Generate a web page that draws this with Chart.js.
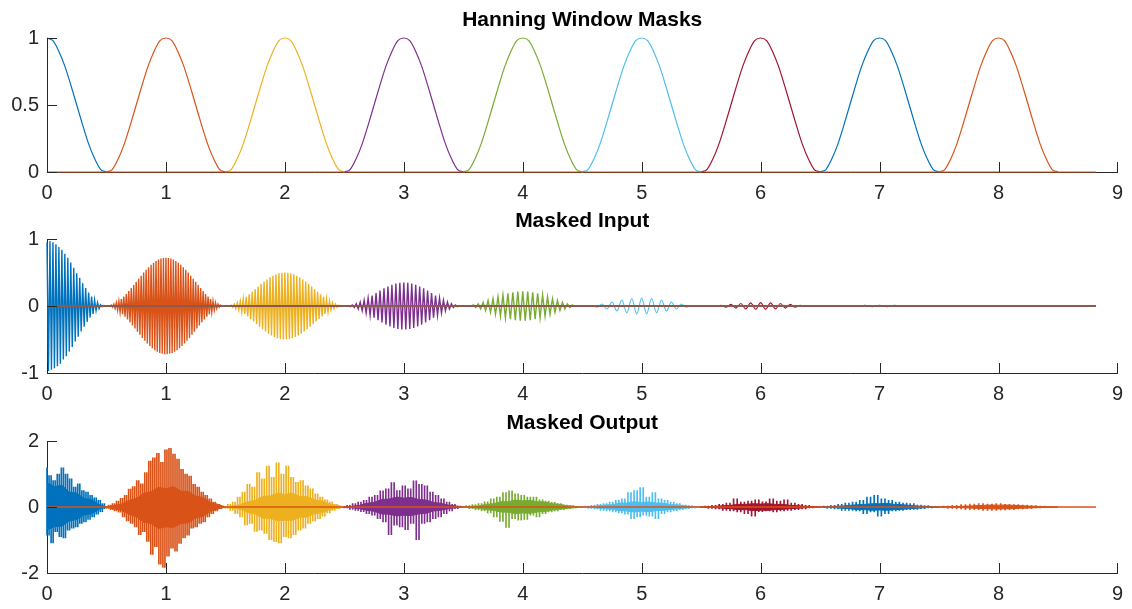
<!DOCTYPE html>
<html>
<head>
<meta charset="utf-8">
<title>Hanning Window Masks</title>
<script src="https://cdn.jsdelivr.net/npm/chart.js"></script>
<style>
    body { margin: 0; background: #fff; }
    .panel { position: absolute; left: 0; width: 1132px; }
</style>
</head>
<body>
<div class="panel" style="top:0px;height:201px"><canvas id="maskChart" width="1132" height="201"></canvas></div>
<div class="panel" style="top:201px;height:202px"><canvas id="inputChart" width="1132" height="202"></canvas></div>
<div class="panel" style="top:403px;height:206px"><canvas id="outputChart" width="1132" height="206"></canvas></div>

<script>
// window centres and the x range of the recorded signal
const windowCenters = [0, 1, 2, 3, 4, 5, 6, 7, 8];
const halfWidth = 0.5;
const signalEnd = 8.82;

// tick labels
const xTickValues = [0, 1, 2, 3, 4, 5, 6, 7, 8, 9];
const maskTicks = [0, 0.5, 1];
const inputTicks = [-1, 0, 1];
const outputTicks = [-2, 0, 2];

// one hanning window, read at steps of 0.05 from -0.5 to 0.5
const hannShape = [0, 0.02, 0.1, 0.21, 0.35, 0.5, 0.65, 0.79, 0.9, 0.98, 1,
                   0.98, 0.9, 0.79, 0.65, 0.5, 0.35, 0.21, 0.1, 0.02, 0];

// masked input, one array per window (first one only covers 0..0.5)
const input0 = [0.95, -0.97, 0.97, -0.95, 0.95, -0.93, 0.92, -0.9, 0.88, -0.86, 0.84, -0.8, 0.78, -0.75, 0.72, -0.68, 0.65, -0.61, 0.57, -0.53, 0.49, -0.46, 0.42, -0.38, 0.34, -0.31, 0.27, -0.24, 0.2, -0.17, 0.14, -0.12, 0.09, -0.07, 0.05, -0.04, 0.02, -0.01, 0.006, -0.002, 0];
const input1 = [0, -0.001, 0.003, -0.007, 0.012, -0.019, 0.027, -0.037, 0.048, -0.061, 0.074, -0.089, 0.105, -0.123, 0.141, -0.16, 0.18, -0.201, 0.222, -0.244, 0.267, -0.29, 0.313, -0.336, 0.36, -0.384, 0.407, -0.43, 0.453, -0.476, 0.498, -0.519, 0.54, -0.56, 0.579, -0.597, 0.615, -0.631, 0.646, -0.659, 0.672, -0.683, 0.693, -0.701, 0.708, -0.713, 0.717, -0.719, 0.72,
                -0.719, 0.717, -0.713, 0.708, -0.701, 0.693, -0.683, 0.672, -0.659, 0.646, -0.631, 0.615, -0.597, 0.579, -0.56, 0.54, -0.519, 0.498, -0.476, 0.453, -0.43, 0.407, -0.384, 0.36, -0.336, 0.313, -0.29, 0.267, -0.244, 0.222, -0.201, 0.18, -0.16, 0.141, -0.123, 0.105, -0.089, 0.074, -0.061, 0.048, -0.037, 0.027, -0.019, 0.012, -0.007, 0.003, -0.001, 0];
const input2 = [0, -0.001, 0.003, -0.007, 0.012, -0.019, 0.027, -0.037, 0.048, -0.06, 0.073, -0.088, 0.103, -0.12, 0.137, -0.155, 0.173, -0.192, 0.211, -0.231, 0.25, -0.27, 0.289, -0.309, 0.328, -0.346, 0.364, -0.381, 0.397, -0.413, 0.427, -0.44, 0.453, -0.463, 0.473, -0.481, 0.488, -0.493, 0.497, -0.499, 0.5,
                -0.499, 0.497, -0.493, 0.488, -0.481, 0.473, -0.463, 0.453, -0.44, 0.427, -0.413, 0.397, -0.381, 0.364, -0.346, 0.328, -0.309, 0.289, -0.27, 0.25, -0.231, 0.211, -0.192, 0.173, -0.155, 0.137, -0.12, 0.103, -0.088, 0.073, -0.06, 0.048, -0.037, 0.027, -0.019, 0.012, -0.007, 0.003, -0.001, 0];
const input3 = [0, -0.001, 0.004, -0.009, 0.015, -0.023, 0.033, -0.045, 0.058, -0.072, 0.088, -0.104, 0.121, -0.139, 0.157, -0.175, 0.193, -0.211, 0.229, -0.246, 0.263, -0.278, 0.292, -0.305, 0.317, -0.327, 0.335, -0.341, 0.346, -0.349, 0.35,
                -0.349, 0.346, -0.341, 0.335, -0.327, 0.317, -0.305, 0.292, -0.278, 0.263, -0.246, 0.229, -0.211, 0.193, -0.175, 0.157, -0.139, 0.121, -0.104, 0.088, -0.072, 0.058, -0.045, 0.033, -0.023, 0.015, -0.009, 0.004, -0.001, 0];
const input4 = [0, -0.001, 0.004, -0.008, 0.015, -0.023, 0.032, -0.043, 0.055, -0.068, 0.082, -0.096, 0.11, -0.124, 0.138, -0.152, 0.165, -0.177, 0.188, -0.197, 0.205, -0.212, 0.216, -0.219, 0.22,
                -0.219, 0.216, -0.212, 0.205, -0.197, 0.188, -0.177, 0.165, -0.152, 0.138, -0.124, 0.11, -0.096, 0.082, -0.068, 0.055, -0.043, 0.032, -0.023, 0.015, -0.008, 0.004, -0.001, 0];
const input5 = [0, -0.002, 0.008, -0.018, 0.03, -0.045, 0.06, -0.075, 0.09, -0.102, 0.112, -0.118, 0.12, -0.118, 0.112, -0.102, 0.09, -0.075, 0.06, -0.045, 0.03, -0.018, 0.008, -0.002, 0];
const input6 = [0, -0.001, 0.003, -0.007, 0.012, -0.019, 0.025, -0.031, 0.037, -0.043, 0.047, -0.049, 0.05, -0.049, 0.047, -0.043, 0.037, -0.031, 0.025, -0.019, 0.012, -0.007, 0.003, -0.001, 0];
const input7 = [0, -0.001, 0.002, -0.004, 0.006, -0.008, 0.01, -0.011, 0.012, -0.011, 0.01, -0.008, 0.006, -0.004, 0.002, -0.001, 0];
const input8 = [0, -0.0005, 0.001, -0.002, 0.003, -0.004, 0.004, -0.004, 0.003, -0.002, 0.001, -0.0005, 0];

// masked output: successive sample values per window
const output0 = [1.19, -0.85, 0.95, -1.09, 0.8, -0.75, 1.0, -0.9, 1.19, -0.94, 1.0, -0.7, 0.85, -0.64, 0.6, -0.6, 0.7, -0.5, 0.5, -0.45, 0.45, -0.38, 0.35, -0.3, 0.28, -0.22, 0.2, -0.14, 0.1, -0.05];
const output1 = [0.02, -0.04, 0.06, -0.08, 0.1, -0.12, 0.18, -0.16, 0.26, -0.3, 0.35, -0.42, 0.54, -0.5, 0.62, -0.6, 0.8, -0.84, 0.7, -0.75, 1.04, -1.04, 1.39, -1.44, 1.49, -1.2, 1.63, -1.73, 1.35, -1.83,
                 1.73, -1.49, 1.78, -1.25, 1.6, -1.34, 1.45, -1.1, 1.14, -0.94, 1.0, -0.85, 0.94, -0.64, 0.69, -0.6, 0.6, -0.5, 0.45, -0.45, 0.35, -0.3, 0.25, -0.2, 0.15, -0.12, 0.08, -0.05, 0.03, 0];
const output2 = [0.02, -0.04, 0.08, -0.1, 0.15, -0.2, 0.3, -0.3, 0.45, -0.54, 0.69, -0.5, 0.6, -0.74, 1.04, -0.7, 0.85, -0.8, 1.24, -0.99, 0.9, -1.05, 1.34, -1.09, 1.0,
                 -0.9, 1.24, -0.94, 0.9, -0.84, 0.75, -0.7, 0.8, -0.64, 0.64, -0.5, 0.55, -0.42, 0.4, -0.35, 0.3, -0.28, 0.22, -0.18, 0.15, -0.1, 0.08, -0.05, 0.03, 0];
const output3 = [0.02, -0.03, 0.05, -0.07, 0.1, -0.1, 0.15, -0.14, 0.2, -0.2, 0.3, -0.25, 0.35, -0.35, 0.49, -0.45, 0.55, -0.84, 0.74, -0.55, 0.5, -0.6,
                 0.64, -0.69, 0.55, -0.5, 0.79, -0.99, 0.69, -0.5, 0.64, -0.45, 0.45, -0.35, 0.35, -0.3, 0.25, -0.2, 0.15, -0.12, 0.08, -0.05, 0.03, 0];
const output4 = [0.01, -0.02, 0.04, -0.05, 0.07, -0.08, 0.1, -0.12, 0.16, -0.18, 0.25, -0.3, 0.3, -0.44, 0.44, -0.62, 0.49, -0.35, 0.4, -0.4,
                 0.35, -0.38, 0.3, -0.25, 0.3, -0.3, 0.22, -0.2, 0.18, -0.15, 0.14, -0.12, 0.1, -0.08, 0.06, -0.05, 0.04, -0.03, 0.02, 0];
const output5 = [0.01, -0.02, 0.03, -0.04, 0.05, -0.06, 0.08, -0.1, 0.1, -0.12, 0.15, -0.15, 0.2, -0.18, 0.25, -0.22, 0.44, -0.35, 0.5, -0.3,
                 0.59, -0.25, 0.3, -0.28, 0.44, -0.35, 0.25, -0.2, 0.2, -0.15, 0.15, -0.12, 0.1, -0.08, 0.06, -0.05, 0.04, -0.03, 0.02, 0];
const output6 = [0.01, -0.02, 0.03, -0.04, 0.05, -0.06, 0.08, -0.1, 0.12, -0.12, 0.25, -0.15, 0.15, -0.2, 0.18, -0.28, 0.22,
                 -0.14, 0.16, -0.12, 0.25, -0.15, 0.18, -0.12, 0.22, -0.1, 0.12, -0.08, 0.08, -0.06, 0.05, -0.03, 0.02, 0];
const output7 = [0.01, -0.02, 0.03, -0.04, 0.05, -0.06, 0.08, -0.1, 0.12, -0.1, 0.15, -0.12, 0.2, -0.2, 0.3, -0.15, 0.35,
                 -0.28, 0.25, -0.2, 0.2, -0.12, 0.15, -0.1, 0.12, -0.08, 0.1, -0.07, 0.06, -0.05, 0.04, -0.03, 0.02, 0];
const output8 = [0.01, -0.02, 0.03, -0.04, 0.05, -0.06, 0.07, -0.08, 0.09, -0.08, 0.1, -0.1, 0.09, -0.1,
                 0.1, -0.09, 0.08, -0.08, 0.07, -0.06, 0.06, -0.05, 0.04, -0.03, 0.03, -0.02, 0.01, 0];

// masked output: upper and lower edge of the dense core
const coreHi0 = [0.74, 0.62, 0.66, 0.45, 0.42, 0.26, 0.22, 0.08, 0];
const coreLo0 = [-0.69, -0.6, -0.58, -0.42, -0.38, -0.24, -0.2, -0.07, 0];
const coreHi1 = [0, 0.05, 0.09, 0.2, 0.26, 0.42, 0.46, 0.6, 0.55, 0.62, 0.48, 0.47, 0.33, 0.29, 0.14, 0.08, 0];
const coreLo1 = [0, -0.06, -0.1, -0.22, -0.3, -0.46, -0.5, -0.65, -0.6, -0.62, -0.5, -0.48, -0.33, -0.28, -0.13, -0.06, 0];
const coreHi2 = [0, 0.03, 0.07, 0.16, 0.2, 0.32, 0.33, 0.42, 0.38, 0.42, 0.32, 0.31, 0.22, 0.18, 0.09, 0.05, 0];
const coreLo2 = [0, -0.04, -0.07, -0.17, -0.21, -0.34, -0.34, -0.42, -0.4, -0.4, -0.31, -0.3, -0.2, -0.17, -0.08, -0.04, 0];
const coreHi3 = [0, 0.02, 0.05, 0.11, 0.14, 0.23, 0.24, 0.3, 0.27, 0.29, 0.23, 0.21, 0.14, 0.11, 0.06, 0.03, 0];
const coreLo3 = [0, -0.02, -0.05, -0.1, -0.13, -0.21, -0.22, -0.27, -0.25, -0.26, -0.21, -0.19, -0.12, -0.1, -0.05, -0.02, 0];
const coreHi4 = [0, 0.02, 0.03, 0.08, 0.1, 0.16, 0.16, 0.21, 0.19, 0.2, 0.16, 0.15, 0.1, 0.08, 0.04, 0.02, 0];
const coreLo4 = [0, -0.02, -0.04, -0.08, -0.1, -0.15, -0.16, -0.2, -0.18, -0.19, -0.15, -0.14, -0.09, -0.07, -0.04, -0.02, 0];
const coreHi5 = [0, 0.01, 0.03, 0.06, 0.07, 0.12, 0.12, 0.16, 0.14, 0.15, 0.12, 0.11, 0.07, 0.06, 0.03, 0.01, 0];
const coreLo5 = [0, -0.01, -0.03, -0.05, -0.07, -0.11, -0.12, -0.15, -0.13, -0.14, -0.11, -0.1, -0.07, -0.05, -0.03, -0.01, 0];
const coreHi6 = [0, 0.01, 0.02, 0.04, 0.05, 0.08, 0.08, 0.1, 0.09, 0.1, 0.08, 0.08, 0.05, 0.04, 0.02, 0.01, 0];
const coreLo6 = [0, -0.01, -0.02, -0.04, -0.05, -0.08, -0.08, -0.11, -0.1, -0.1, -0.08, -0.07, -0.05, -0.04, -0.02, -0.01, 0];
const coreHi7 = [0, 0.01, 0.02, 0.03, 0.05, 0.07, 0.08, 0.1, 0.1, 0.11, 0.08, 0.07, 0.05, 0.03, 0.02, 0.01, 0];
const coreLo7 = [0, -0.01, -0.02, -0.04, -0.05, -0.08, -0.08, -0.1, -0.09, -0.1, -0.08, -0.07, -0.05, -0.04, -0.02, -0.01, 0];
const coreHi8 = [0, 0.005, 0.01, 0.02, 0.03, 0.04, 0.05, 0.06, 0.055, 0.06, 0.05, 0.04, 0.03, 0.02, 0.01, 0.005, 0];
const coreLo8 = [0, -0.005, -0.01, -0.02, -0.03, -0.04, -0.05, -0.055, -0.06, -0.055, -0.05, -0.04, -0.03, -0.02, -0.01, -0.005, 0];

const inputs = [input0, input1, input2, input3, input4, input5, input6, input7, input8];
const outputs = [output0, output1, output2, output3, output4, output5, output6, output7, output8];
const coreHi = [coreHi0, coreHi1, coreHi2, coreHi3, coreHi4, coreHi5, coreHi6, coreHi7, coreHi8];
const coreLo = [coreLo0, coreLo1, coreLo2, coreLo3, coreLo4, coreLo5, coreLo6, coreLo7, coreLo8];

// matlab default line colours
const colors = ['#0072BD', '#D95319', '#EDB120', '#7E2F8E', '#77AC30', '#4DBEEE', '#A2142F', '#0072BD', '#D95319'];
const axisColor = '#262626';
const fontFamily = "'Liberation Sans', Arial, Helvetica, sans-serif";

// spread a window's values evenly over its x range (clipped at 0)
function segmentPoints(center, values) {
    const start = Math.max(0, center - halfWidth);
    const end = center + halfWidth;
    const step = (end - start) / (values.length - 1);
    return values.map((v, i) => ({x: start + i * step, y: v}));
}

// each step between two samples becomes one vertical stroke
function spikeColumns(center, values) {
    const pts = segmentPoints(center, values);
    return pts.slice(0, -1).map((p, i) => ({x: p.x, y: [p.y, pts[i + 1].y]}));
}

function hannPoints(center) {
    const step = 2 * halfWidth / (hannShape.length - 1);
    return hannShape
        .map((v, i) => ({x: center - halfWidth + i * step, y: v}))
        .filter(p => p.x >= 0);
}

function zeroLine(color, width) {
    return {
        data: [{x: 0, y: 0}, {x: signalEnd, y: 0}],
        borderColor: color, borderWidth: width, pointRadius: 0, order: 0, clip: 5
    };
}

// matlab style ticks pointing into the axes
const inwardTicks = {
    id: 'inwardTicks',
    afterDatasetsDraw(chart) {
        const {ctx, chartArea, scales} = chart;
        ctx.save();
        ctx.strokeStyle = axisColor;
        ctx.lineWidth = 1;
        ctx.beginPath();
        scales.x.ticks.forEach(t => {
            const px = Math.round(scales.x.getPixelForValue(t.value)) + 0.5;
            ctx.moveTo(px, chartArea.bottom);
            ctx.lineTo(px, chartArea.bottom - 10);
        });
        scales.y.ticks.forEach(t => {
            const py = Math.round(scales.y.getPixelForValue(t.value)) + 0.5;
            ctx.moveTo(chartArea.left, py);
            ctx.lineTo(chartArea.left + 10, py);
        });
        ctx.stroke();
        ctx.restore();
    }
};

function buildChart(id, title, datasets, yTicks, xAxisHeight) {
    const tickFont = {family: fontFamily, size: 20};
    new Chart(document.getElementById(id), {
        type: 'line',
        data: {datasets: datasets},
        options: {
            responsive: false,
            animation: false,
            events: [],
            layout: {padding: {top: 0, right: 14, bottom: 0, left: 0}},
            elements: {point: {radius: 0}},
            plugins: {
                legend: {display: false},
                tooltip: {enabled: false},
                title: {
                    display: true,
                    text: title,
                    fullSize: false,
                    color: '#000',
                    font: {family: fontFamily, size: 21, weight: 'bold'},
                    padding: {top: 8, bottom: 4.8}
                }
            },
            scales: {
                x: {
                    type: 'linear',
                    offset: false,
                    min: xTickValues[0],
                    max: xTickValues[xTickValues.length - 1],
                    afterBuildTicks: s => { s.ticks = xTickValues.map(v => ({value: v})); },
                    afterFit: s => { s.height = xAxisHeight; },
                    grid: {display: false, drawTicks: false, offset: false},
                    border: {display: true, color: axisColor, width: 1},
                    ticks: {color: axisColor, font: tickFont, padding: 9, maxRotation: 0, autoSkip: false,
                            callback: v => String(v)}
                },
                y: {
                    type: 'linear',
                    min: yTicks[0],
                    max: yTicks[yTicks.length - 1],
                    afterBuildTicks: s => { s.ticks = yTicks.map(v => ({value: v})); },
                    afterFit: s => { s.width = 47; },
                    grid: {display: false, drawTicks: false},
                    border: {display: true, color: axisColor, width: 1},
                    ticks: {color: axisColor, font: tickFont, padding: 8, callback: v => String(v)}
                }
            }
        },
        plugins: [inwardTicks]
    });
}

// hanning window masks
const maskSets = [zeroLine(colors[8], 1.2)];
windowCenters.forEach((c, k) => {
    maskSets.push({
        data: hannPoints(c), borderColor: colors[k], borderWidth: 1.2,
        cubicInterpolationMode: 'monotone', order: 1, clip: 5
    });
});
buildChart('maskChart', 'Hanning Window Masks', maskSets, maskTicks, 29);

// masked input (dense windows as straight zig-zag, sparse ones smoothed)
const inputSets = [zeroLine('#8B5A4E', 2)];
windowCenters.forEach((c, k) => {
    inputSets.push({
        data: segmentPoints(c, inputs[k]), borderColor: colors[k], borderWidth: k < 5 ? 1.4 : 1.1,
        cubicInterpolationMode: k >= 5 ? 'monotone' : 'default', order: 1, clip: 5
    });
});
buildChart('inputChart', 'Masked Input', inputSets, inputTicks, 30);

// masked output: vertical strokes over a filled core
const outputSets = [zeroLine(colors[8], 1.5)];
windowCenters.forEach((c, k) => {
    outputSets.push({
        type: 'bar',
        data: spikeColumns(c, outputs[k]), backgroundColor: colors[k],
        barThickness: 1, grouped: false, order: 1, clip: 5
    });
    [coreHi[k], coreLo[k]].forEach(edge => {
        outputSets.push({
            data: segmentPoints(c, edge), borderColor: colors[k], backgroundColor: colors[k],
            borderWidth: 1, fill: 'origin', order: 2, clip: 5
        });
    });
});
buildChart('outputChart', 'Masked Output', outputSets, outputTicks, 36);
</script>
</body>
</html>
